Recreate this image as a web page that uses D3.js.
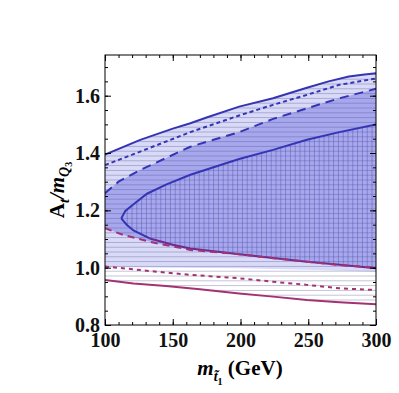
<!DOCTYPE html>
<html>
<head>
<meta charset="utf-8">
<script src="https://cdn.jsdelivr.net/npm/d3@7"></script>
<style>
  body { margin: 0; background: #fff; }
  svg text { font-family: "Liberation Serif", "Times New Roman", serif; }
</style>
</head>
<body>
<script>
// tick values
const xTicks = [100, 150, 200, 250, 300]
const yTicks = [0.8, 1.0, 1.2, 1.4, 1.6]

// contours, as [m_stop (GeV), At/mQ3]
const topSolid = [[100, 1.395], [126, 1.446], [150, 1.485], [163, 1.504], [175, 1.524], [199, 1.562],
    [224, 1.591], [249, 1.628], [265, 1.650], [280, 1.667], [290, 1.673], [300, 1.678]]
const dottedBlue = [[100, 1.358], [126, 1.405], [163, 1.473], [199, 1.531], [224, 1.568],
    [249, 1.603], [273, 1.638], [300, 1.66]]
const dashedBlue = [[100, 1.26], [110, 1.30], [126, 1.341], [163, 1.422], [199, 1.473], [224, 1.519],
    [249, 1.556], [273, 1.591], [300, 1.624]]
const innerTop = [[300, 1.50], [273, 1.473], [249, 1.446], [224, 1.411], [199, 1.379], [163, 1.324],
    [145, 1.29], [131, 1.258], [122, 1.225], [115, 1.198], [112, 1.172]]
const innerLow = [[112, 1.172], [116, 1.15], [121, 1.13], [133, 1.102], [150, 1.08], [163, 1.067],
    [199, 1.047], [224, 1.034], [249, 1.021], [273, 1.01], [300, 0.998]]
const magentaDashed = [[100, 1.138], [113.5, 1.114], [138, 1.085], [163, 1.062], [199, 1.047],
    [224, 1.033], [249, 1.021], [273, 1.009], [300, 1.0]]
const lightBottom = [[100, 1.002], [150, 1.0], [200, 0.998], [250, 0.993], [300, 0.986]]
const magentaDotted = [[100, 1.004], [109, 1.0], [138, 0.986], [163, 0.975], [199, 0.963],
    [224, 0.951], [249, 0.94], [273, 0.928], [300, 0.922]]
const magentaSolid = [[100, 0.957], [121, 0.945], [145, 0.936], [170, 0.925], [199, 0.91],
    [224, 0.899], [249, 0.887], [273, 0.879], [300, 0.872]]

const width = 399, height = 393
const plot = {left: 105, right: 376, top: 55, bottom: 325}
const serif = '"Liberation Serif", "Times New Roman", serif'

const svg = d3.select('body').append('svg')
    .attr('width', width)
    .attr('height', height)

const xScale = d3.scaleLinear().domain([100, 300]).range([plot.left, plot.right])
const yScale = d3.scaleLinear().domain([0.8, 1.742]).range([plot.bottom, plot.top])

const line = d3.line()
    .x(d => xScale(d[0]))
    .y(d => yScale(d[1]))

// closed area between an upper and a lower curve
function band(upper, lower) {
    return line(upper) + 'L' + line(lower.slice().reverse()).slice(1) + 'Z'
}

const blue = '#3434b4', magenta = '#a33272'

// hatch patterns + clip
const defs = svg.append('defs')
defs.append('clipPath').attr('id', 'clip')
    .append('rect')
    .attr('x', plot.left).attr('y', plot.top)
    .attr('width', plot.right - plot.left).attr('height', plot.bottom - plot.top)

const hh = defs.append('pattern').attr('id', 'hh')
    .attr('patternUnits', 'userSpaceOnUse')
    .attr('width', 10).attr('height', 4.8)
hh.append('line').attr('x1', 0).attr('x2', 10).attr('y1', 2.4).attr('y2', 2.4)
    .attr('stroke', 'rgba(70,70,130,0.33)').attr('stroke-width', 1)

const vv = defs.append('pattern').attr('id', 'vv')
    .attr('patternUnits', 'userSpaceOnUse')
    .attr('width', 4.8).attr('height', 10)
vv.append('line').attr('x1', 2.4).attr('x2', 2.4).attr('y1', 0).attr('y2', 10)
    .attr('stroke', 'rgba(50,50,160,0.35)').attr('stroke-width', 1)

const g = svg.append('g').attr('clip-path', 'url(#clip)')

// regions
g.append('path').attr('d', band(topSolid, lightBottom)).attr('fill', '#d9d9f8')
g.append('path').attr('d', band(dashedBlue, magentaDashed)).attr('fill', '#a7a7ee')
g.append('path').attr('d', line(innerTop.concat(innerLow.slice(1))) + 'Z').attr('fill', 'url(#vv)')
g.append('path').attr('d', band(topSolid, magentaSolid)).attr('fill', 'url(#hh)')

// contour lines
const curves = [
    {data: magentaSolid, color: magenta, dash: null},
    {data: magentaDotted, color: magenta, dash: '4,4'},
    {data: topSolid, color: blue, dash: null},
    {data: dottedBlue, color: blue, dash: '4,3'},
    {data: dashedBlue, color: blue, dash: '9,6'},
    {data: innerTop, color: blue, dash: null},
    {data: innerLow.slice(0, 4), color: blue, dash: null},
    {data: innerLow.slice(3), color: '#6a2c8e', dash: null},
    {data: magentaDashed, color: magenta, dash: '7,5'}
]
curves.forEach(c => {
    g.append('path')
        .attr('d', line(c.data))
        .attr('fill', 'none')
        .attr('stroke', c.color)
        .attr('stroke-width', 2)
        .attr('stroke-dasharray', c.dash)
})

// frame
svg.append('rect')
    .attr('x', plot.left).attr('y', plot.top)
    .attr('width', plot.right - plot.left).attr('height', plot.bottom - plot.top)
    .attr('fill', 'none').attr('stroke', '#000').attr('stroke-width', 1)

// ticks pointing inward on all four sides
const xMinor = d3.range(100, 301, 10)
const yMinor = d3.range(0.8, 1.741, 0.05)
function axisPair(axisFn, scale, pos, major, minor, labels) {
    const t = axisFn === d3.axisBottom || axisFn === d3.axisTop
        ? 'translate(0,' + pos + ')' : 'translate(' + pos + ',0)'
    svg.append('g').attr('transform', t)
        .call(axisFn(scale).tickValues(minor).tickSizeInner(-3).tickSizeOuter(0).tickFormat(''))
        .call(a => a.select('.domain').remove())
    const ax = svg.append('g').attr('transform', t)
        .call(axisFn(scale).tickValues(major).tickSizeInner(-6).tickSizeOuter(0)
            .tickPadding(axisFn === d3.axisBottom ? 8 : 5)
            .tickFormat(labels ? labels : ''))
    ax.attr('font-family', serif)
    ax.select('.domain').remove()
    ax.selectAll('text')
        .style('font-family', serif)
        .style('font-size', '20px')
        .style('font-weight', 'bold')
        .attr('fill', '#111')
}
axisPair(d3.axisBottom, xScale, plot.bottom, xTicks, xMinor, d3.format('d'))
axisPair(d3.axisTop, xScale, plot.top, xTicks, xMinor, null)
axisPair(d3.axisLeft, yScale, plot.left, yTicks, yMinor, d3.format('.1f'))
axisPair(d3.axisRight, yScale, plot.right, yTicks, yMinor, null)

// axis titles
const xl = svg.append('text')
    .attr('x', 240).attr('y', 375)
    .attr('text-anchor', 'middle')
    .style('font-family', serif)
    .style('font-size', '21px')
    .style('font-weight', 'bold')
xl.append('tspan').style('font-style', 'italic').text('m')
xl.append('tspan').attr('dy', 6).style('font-size', '14px').style('font-style', 'italic').text('t\u0303')
xl.append('tspan').attr('dy', 4).style('font-size', '10px').text('1')
xl.append('tspan').attr('dy', -10).text(' (GeV)')

const yl = svg.append('text')
    .attr('transform', 'translate(64,190) rotate(-90)')
    .attr('text-anchor', 'middle')
    .style('font-family', serif)
    .style('font-size', '21px')
    .style('font-weight', 'bold')
yl.append('tspan').text('A')
yl.append('tspan').attr('dy', 5).style('font-size', '14px').style('font-style', 'italic').text('t')
yl.append('tspan').attr('dy', -5).style('font-style', 'italic').text('/m')
yl.append('tspan').attr('dy', 5).style('font-size', '14px').style('font-style', 'italic').text('Q')
yl.append('tspan').attr('dy', 3).style('font-size', '10px').text('3')
</script>
</body>
</html>
